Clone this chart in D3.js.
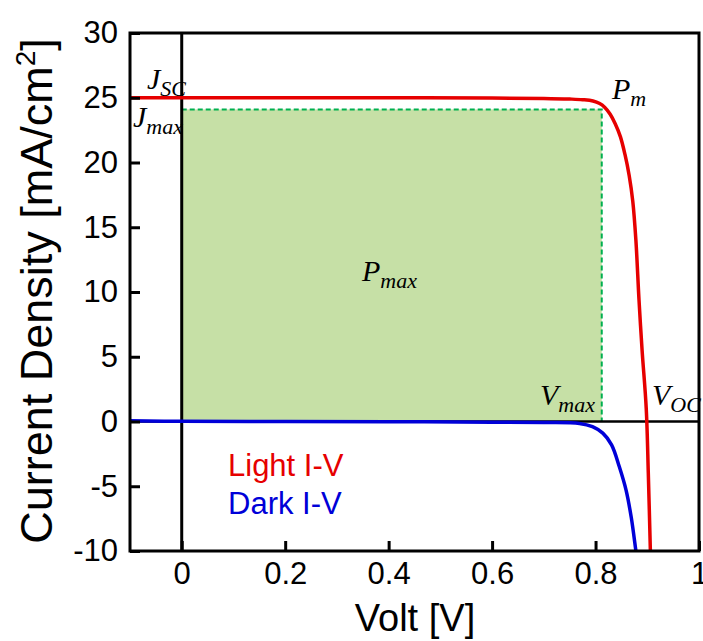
<!DOCTYPE html>
<html>
<head>
<meta charset="utf-8">
<script src="https://cdn.jsdelivr.net/npm/d3@7"></script>
<style>
    body { margin: 0; background: #fff; }
    svg { display: block; }
    .tick-label { font-family: "Liberation Sans", Arial, sans-serif; font-size: 31px; fill: #000; }
    .math { font-family: "Liberation Serif", serif; font-style: italic; fill: #000; }
</style>
</head>
<body>
<div id="container"></div>
<script>
// light I-V curve
var voltLight = [-0.1, 0, 0.2, 0.4, 0.6, 0.7, 0.75, 0.775, 0.795, 0.808, 0.818, 0.828, 0.838, 0.848, 0.857, 0.865, 0.872, 0.878, 0.884, 0.89, 0.898, 0.902, 0.906];
var jLight = [25, 25, 25, 25, 24.98, 24.95, 24.9, 24.85, 24.75, 24.55, 24.25, 23.75, 23.0, 22.0, 20.6, 19.0, 17.0, 14.0, 9.4, 5.5, 1.0, -4, -10];

// dark I-V curve
var voltDark = [-0.1, 0, 0.2, 0.4, 0.6, 0.7, 0.769, 0.794, 0.814, 0.831, 0.846, 0.859, 0.869, 0.877, 0.878];
var jDark = [0.05, 0.02, 0, -0.02, -0.05, -0.08, -0.15, -0.4, -0.9, -1.8, -3.5, -5.3, -7.4, -9.7, -10];

// maximum power point
var vMax = 0.812;
var jMax = 24.1;

// ticks
var xTicks = [0, 0.2, 0.4, 0.6, 0.8, 1];
var yTicks = [-10, -5, 0, 5, 10, 15, 20, 25, 30];

// legend
var legendNames = ["Light I-V", "Dark I-V"];
var legendColors = ["#e60000", "#0000d8"];

// canvas settings
var canvasX = 703;
var canvasY = 641;
var plotLeft = 130;
var plotRight = 699;
var plotTop = 33;
var plotBottom = 551;

var svg = d3.select("#container")
            .append("svg")
            .attr("width", canvasX)
            .attr("height", canvasY);

// scales
var xScale = d3.scaleLinear().domain([-0.1, 1]).range([plotLeft, plotRight]);
var yScale = d3.scaleLinear().domain([-10, 30]).range([plotBottom, plotTop]);

// clip to plot area
svg.append("clipPath")
   .attr("id", "clip")
   .append("rect")
   .attr("x", plotLeft)
   .attr("y", plotTop)
   .attr("width", plotRight - plotLeft)
   .attr("height", plotBottom - plotTop);

var plot = svg.append("g").attr("clip-path", "url(#clip)");

// Pmax rectangle
plot.append("rect")
    .attr("x", xScale(0))
    .attr("y", yScale(jMax))
    .attr("width", xScale(vMax) - xScale(0))
    .attr("height", yScale(0) - yScale(jMax))
    .attr("fill", "#c6e0a6");

plot.append("path")
    .attr("d", "M" + xScale(0) + "," + yScale(jMax) + "H" + xScale(vMax) + "V" + yScale(0))
    .attr("fill", "none")
    .attr("stroke", "#00b050")
    .attr("stroke-width", 2)
    .attr("stroke-dasharray", "5,3");

// zero lines
plot.append("line")
    .attr("x1", plotLeft).attr("x2", plotRight)
    .attr("y1", yScale(0)).attr("y2", yScale(0))
    .attr("stroke", "#000").attr("stroke-width", 2.5);

plot.append("line")
    .attr("x1", xScale(0)).attr("x2", xScale(0))
    .attr("y1", plotTop).attr("y2", plotBottom)
    .attr("stroke", "#000").attr("stroke-width", 3);

// curves
var line = d3.line()
             .x(function(d) { return xScale(d[0]); })
             .y(function(d) { return yScale(d[1]); })
             .curve(d3.curveCatmullRom.alpha(0.5));

var darkData = d3.zip(voltDark, jDark);
var lightData = d3.zip(voltLight, jLight);

plot.append("path")
    .attr("d", line(darkData))
    .attr("fill", "none")
    .attr("stroke", legendColors[1])
    .attr("stroke-width", 3.5);

plot.append("path")
    .attr("d", line(lightData))
    .attr("fill", "none")
    .attr("stroke", legendColors[0])
    .attr("stroke-width", 3.5);

// axes with inward ticks, plain hyphen for negatives
var xAxis = d3.axisBottom(xScale).tickValues(xTicks).tickSize(-10).tickFormat(function(d) { return String(d); });
var yAxis = d3.axisLeft(yScale).tickValues(yTicks).tickSize(-10).tickFormat(function(d) { return String(d); });

var gx = svg.append("g")
            .attr("transform", "translate(0," + plotBottom + ")")
            .call(xAxis);
var gy = svg.append("g")
            .attr("transform", "translate(" + plotLeft + ",0)")
            .call(yAxis);

[gx, gy].forEach(function(g) {
    g.attr("font-size", null).attr("font-family", null);
    g.select(".domain").remove();
    g.selectAll(".tick line").attr("stroke", "#000").attr("stroke-width", 3);
    g.selectAll(".tick text")
     .attr("class", "tick-label")
     .attr("fill", null);
});
gx.selectAll(".tick text").attr("dy", "0.71em").attr("y", 11);
gy.selectAll(".tick text").attr("x", -12);

// frame
svg.append("rect")
   .attr("x", plotLeft)
   .attr("y", plotTop)
   .attr("width", plotRight - plotLeft)
   .attr("height", plotBottom - plotTop)
   .attr("fill", "none")
   .attr("stroke", "#000")
   .attr("stroke-width", 3);

// axis titles
svg.append("text")
   .attr("x", 415)
   .attr("y", 631)
   .attr("text-anchor", "middle")
   .style("font-family", "Liberation Sans, Arial, sans-serif")
   .style("font-size", "38px")
   .text("Volt [V]");

var yTitle = svg.append("text")
                .attr("transform", "translate(52,291) rotate(-90)")
                .attr("text-anchor", "middle")
                .style("font-family", "Liberation Sans, Arial, sans-serif")
                .style("font-size", "45px");
yTitle.append("tspan").text("Current Density [mA/cm");
yTitle.append("tspan").attr("dy", -17).style("font-size", "28px").text("2");
yTitle.append("tspan").attr("dy", 17).text("]");

// math annotations
function mathLabel(x, y, main, sub) {
    var t = svg.append("text")
               .attr("class", "math")
               .attr("x", x)
               .attr("y", y)
               .style("font-size", "30px");
    t.append("tspan").text(main);
    t.append("tspan").attr("dy", 7).style("font-size", "22px").text(sub);
}

mathLabel(147, 89, "J", "SC");
mathLabel(133, 127, "J", "max");
mathLabel(612, 99, "P", "m");
mathLabel(362, 281, "P", "max");
mathLabel(540, 405, "V", "max");
mathLabel(652, 405, "V", "OC");

// legend
svg.selectAll(".legend")
   .data(legendNames)
   .enter()
   .append("text")
   .attr("class", "legend")
   .attr("x", 228)
   .attr("y", function(d, i) { return 476 + i * 38; })
   .attr("fill", function(d, i) { return legendColors[i]; })
   .style("font-family", "Liberation Sans, Arial, sans-serif")
   .style("font-size", "31px")
   .text(function(d) { return d; });
</script>
</body>
</html>
